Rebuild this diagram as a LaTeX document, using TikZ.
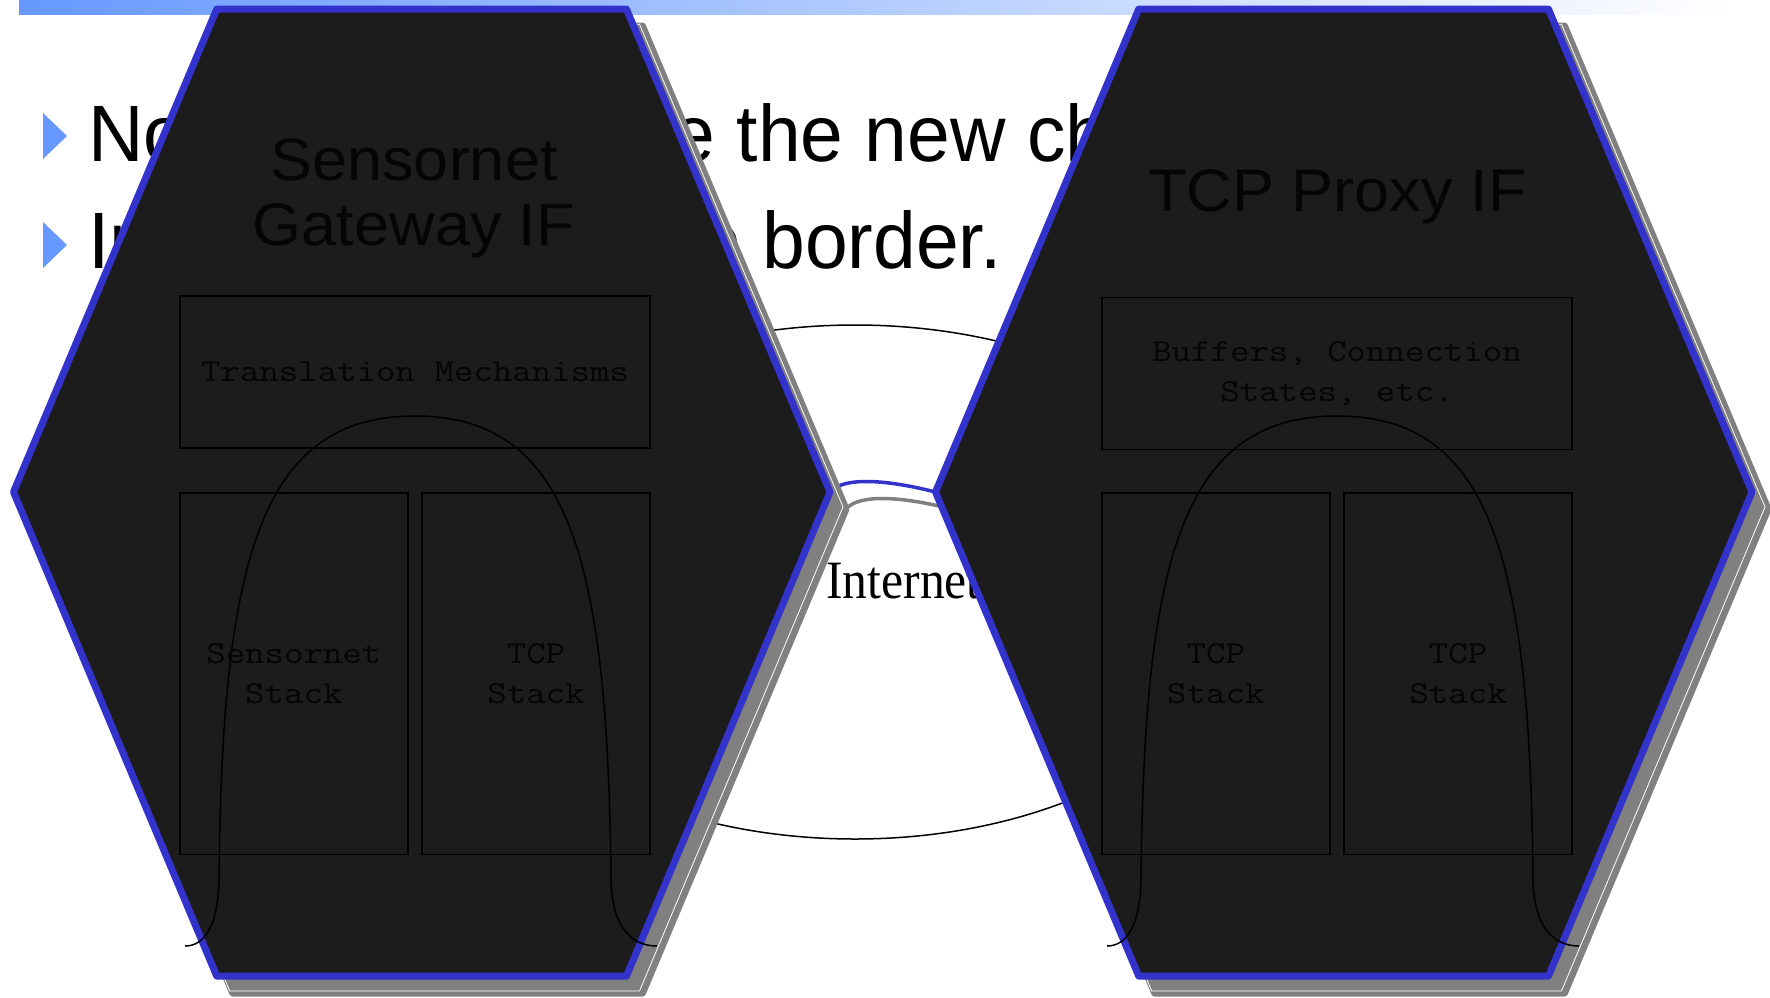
\documentclass[tikz,border=0pt]{standalone}
\usepackage{fontspec}
\setmainfont{Liberation Serif}
\newfontfamily\slidefont[FakeStretch=0.96]{Liberation Sans}
\newfontfamily\titlefont[FakeStretch=1.05]{Liberation Sans}
\newfontfamily\netfont[FakeStretch=0.92]{Liberation Serif}
\newfontfamily\boxfont[FakeStretch=1.18]{Latin Modern Mono}
\definecolor{barblue}{RGB}{102,153,255}
\definecolor{hexblue}{RGB}{51,51,204}
\definecolor{hexfill}{RGB}{28,28,28}
\definecolor{shadowgrey}{RGB}{128,128,128}
\definecolor{inkdark}{RGB}{5,5,5}

\begin{document}
\begin{tikzpicture}[x=1pt,y=-1pt]
  \tikzstyle{hexagon}=[insert path={(13.5,492) -- (216.7,9.2) -- (626.5,9.2) -- (830,492) -- (626.5,976) -- (216.7,976) -- cycle}]
  \tikzstyle{hexshadow}=[fill=shadowgrey,draw=shadowgrey,line width=7pt,line join=round]
  \tikzstyle{hexbody}=[fill=hexfill,draw=hexblue,line width=7pt,line join=round]
  \tikzstyle{stackbox}=[draw=black,line width=1.8pt,inner sep=0pt,font=\boxfont\fontsize{32}{40}\selectfont,text=inkdark,align=center]
  \tikzstyle{hextitle}=[font=\titlefont\fontsize{60}{65}\selectfont,text=inkdark,align=center,inner sep=0pt]
  \tikzstyle{bullettext}=[font=\slidefont\fontsize{80}{107}\selectfont,anchor=base west,inner sep=0pt]
  \tikzstyle{archline}=[line width=1.5pt]

  \useasboundingbox (0,0) rectangle (1770,997);
  \shade[left color=barblue,right color=white] (19,0) rectangle (1735,14);
  \fill[barblue] (43,113) -- (67,136) -- (43,159) -- cycle;
  \fill[barblue] (43,222) -- (67,245) -- (43,268) -- cycle;
  \node[bullettext] (first) at (88,161.4) {Now we recognize the new challenges};
  \node[bullettext] (second) at (88,268.7) {Interworking on the border.};

  % the internet
  \draw[archline] (855,582) ellipse [x radius=406,y radius=257];
  \node[font=\netfont\fontsize{54}{60}\selectfont,anchor=base west,inner sep=0pt] (internet) at (826,598) {Internet};

  % link between the two interfaces
  \coordinate (lE) at (830,492);
  \coordinate (rW) at (935.5,492);
  \draw[shadowgrey,line width=3.5pt] ([shift={(16,17)}]lE) .. controls (858,495) and (896,495) .. ([shift={(16,17)}]rW);
  \draw[hexblue,line width=3.5pt] (lE) .. controls (842,478) and (880,478) .. (rW);

  \foreach \dx in {0,922} {
    \begin{scope}[xshift=\dx]
      \path[hexshadow,shift={(16,17)},hexagon];
      \path[draw=white,line width=0.8pt,shift={(13,15)},hexagon];
      \path[hexbody,hexagon];
      \draw[archline] (185,946) .. controls (205,946) and (218,925) .. (219,880)
        .. controls (222,560) and (260,416) .. (415,416)
        .. controls (570,416) and (608,560) .. (611,880)
        .. controls (612,925) and (630,946) .. (657,946);
    \end{scope}
  }

  \node[hextitle] (ltitle) at (414,198) {Sensornet\\Gateway IF};
  \node[stackbox,minimum width=470.2,minimum height=152] (lmech) at (415.1,371.7) {Translation Mechanisms};
  \node[stackbox,minimum width=227.7,minimum height=361.5] (lsensor) at (293.85,673.75) {Sensornet\\Stack};
  \node[stackbox,minimum width=228,minimum height=361.5] (ltcp) at (536,673.75) {TCP\\Stack};

  \node[hextitle] (rtitle) at (1337.5,197) {TCP Proxy IF};
  \node[stackbox,minimum width=470.6,minimum height=152] (rbuffer) at (1337,373.5) {Buffers, Connection\\States, etc.};
  \node[stackbox,minimum width=228.3,minimum height=361.5] (rtcpa) at (1215.85,673.75) {TCP\\Stack};
  \node[stackbox,minimum width=228.3,minimum height=361.5] (rtcpb) at (1458.15,673.75) {TCP\\Stack};
\end{tikzpicture}
\end{document}
